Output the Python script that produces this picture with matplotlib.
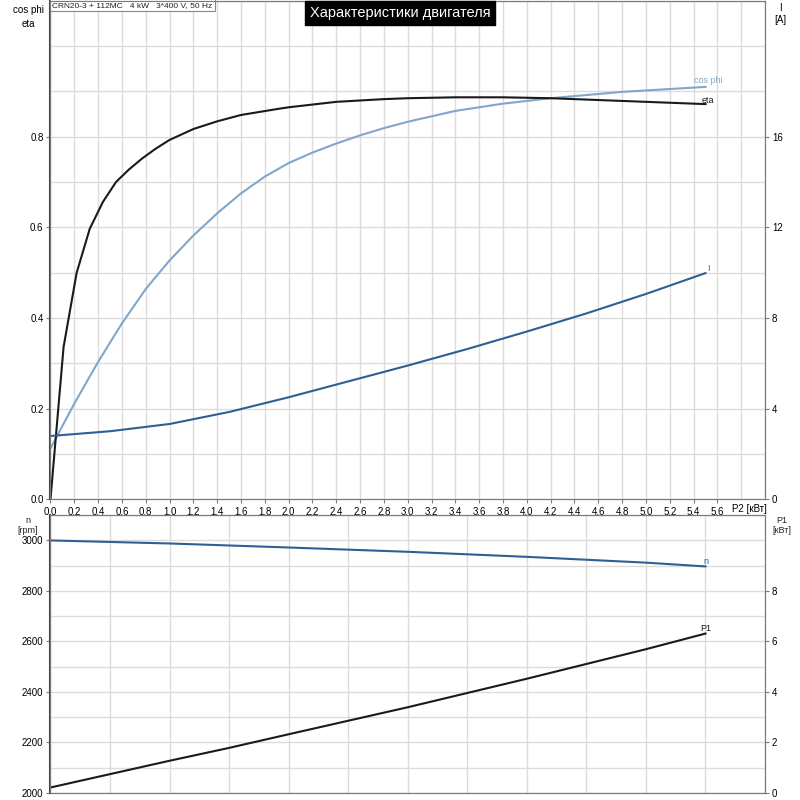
import numpy as np
import matplotlib.pyplot as plt

plt.rcParams['font.family'] = ['Liberation Sans', 'DejaVu Sans']

# данные (P2 в кВт)
p2_eta = [0, 0.11, 0.22, 0.33, 0.44, 0.55, 0.66, 0.77, 0.88, 1.0, 1.2, 1.4, 1.6, 1.9, 2.0, 2.4, 2.8, 3.0, 3.4, 3.8, 4.2, 4.5, 4.8, 5.2, 5.5]
eta = [0, 0.336, 0.50, 0.597, 0.656, 0.70, 0.728, 0.752, 0.773, 0.793, 0.817, 0.834, 0.848, 0.861, 0.865, 0.877, 0.883, 0.885, 0.887, 0.887, 0.885, 0.882, 0.879, 0.875, 0.872]

p2_cos = [0, 0.2, 0.4, 0.6, 0.8, 1.0, 1.2, 1.4, 1.6, 1.8, 2.0, 2.2, 2.4, 2.6, 2.8, 3.0, 3.4, 3.8, 4.2, 4.8, 5.5]
cos_phi = [0.112, 0.211, 0.303, 0.388, 0.464, 0.527, 0.582, 0.631, 0.675, 0.712, 0.742, 0.765, 0.785, 0.803, 0.819, 0.833, 0.857, 0.873, 0.885, 0.899, 0.91]

p2_i = [0, 0.5, 1.0, 1.5, 2.0, 2.5, 3.0, 3.5, 4.0, 4.5, 5.0, 5.5]
current = [2.79, 3.0, 3.32, 3.85, 4.5, 5.2, 5.9, 6.63, 7.4, 8.2, 9.06, 9.98]

p2_n = [0, 0.5, 1.0, 1.5, 2.0, 3.0, 4.0, 5.0, 5.5]
speed = [3000, 2994, 2988, 2980, 2972, 2955, 2935, 2912, 2897]

p2_p1 = [0, 1.0, 1.5, 2.0, 3.0, 4.0, 5.0, 5.5]
p1 = [0.21, 1.27, 1.78, 2.32, 3.39, 4.52, 5.69, 6.31]

x_ticks = [round(0.2 * k, 1) for k in range(29)]
x_labels = [f"{v:.1f}".replace('.', ',') for v in x_ticks]

c_eta = '#1a1a1a'
c_cos = '#82a6ca'
c_i = '#2f5f95'
c_grid = '#dcdcdc'
c_spine = '#7a7a7a'
fs = 7

fig = plt.figure(figsize=(8, 8), dpi=100)
ax = fig.add_axes([0.0631, 0.376, 0.8932, 0.623])
ax2 = fig.add_axes([0.0631, 0.009, 0.8932, 0.347])

# ---- верхний график
ax.set_xlim(0, 6)
ax.set_ylim(0, 1.1)
ax.set_xticks(x_ticks)
ax.set_xticklabels(x_labels, fontsize=fs)
ax.set_xticks(np.arange(0, 6.01, 0.2), minor=True)
ax.set_yticks([0, 0.2, 0.4, 0.6, 0.8])
ax.set_yticklabels(['0.0', '0.2', '0.4', '0.6', '0.8'], fontsize=fs)
ax.set_yticks(np.arange(0, 1.101, 0.1), minor=True)
ax.grid(True, which='both', color=c_grid, lw=1)
ax.tick_params(which='minor', length=0)
ax.tick_params(which='major', length=3, width=0.8, color=c_spine, pad=2)
ax.set_axisbelow(True)
ax.text(5.72, -0.009, 'P2 [кВт]', transform=ax.get_xaxis_transform(),
        fontsize=fs, ha='left', va='top')

ax.plot(p2_cos, cos_phi, color=c_cos, lw=1.5)
ax.plot(p2_eta, eta, color=c_eta, lw=1.5)

axr = ax.twinx()
axr.set_ylim(0, 22)
axr.set_yticks([0, 4, 8, 12, 16])
axr.set_yticklabels(['0', '4', '8', '12', '16'], fontsize=fs)
axr.tick_params(length=3, width=0.8, color=c_spine, pad=2)
axr.plot(p2_i, current, color=c_i, lw=1.5)

ax.text(5.52, 0.923, 'cos phi', color=c_cos, fontsize=6.5, ha='center', va='center')
ax.text(5.52, 0.879, 'eta', color=c_eta, fontsize=6.5, ha='center', va='center')
ax.text(5.52, 0.51, 'I', color=c_i, fontsize=6.5, ha='center', va='center')

for a in (ax, axr):
    for s in a.spines.values():
        s.set_color(c_spine)
ax.spines['left'].set_color('#444444')
ax.spines['left'].set_linewidth(1.5)

ax.text(0.0025, 0.998, 'CRN20-3 + 112MC   4 kW   3*400 V, 50 Hz', transform=ax.transAxes,
        fontsize=6, ha='left', va='top', color='#222222',
        bbox=dict(facecolor='white', edgecolor='#8a8a8a', boxstyle='square,pad=0.3', lw=0.8))

fig.text(0.035, 0.994, 'cos phi\neta', fontsize=fs, ha='center', va='top', linespacing=1.5)
fig.text(0.975, 0.996, 'I\n[A]', fontsize=fs, ha='center', va='top', linespacing=1.2)
fig.text(0.5, 0.984, 'Характеристики двигателя', fontsize=10.5, color='white',
         ha='center', va='center',
         bbox=dict(facecolor='black', edgecolor='black', boxstyle='square,pad=0.35'))

# ---- нижний график
ax2.set_xlim(0, 6)
ax2.set_ylim(2000, 3100)
ax2.set_xticks([])
ax2.set_xticks(np.arange(0, 6.01, 0.5), minor=True)
ax2.set_yticks([2000, 2200, 2400, 2600, 2800, 3000])
ax2.set_yticklabels(['2000', '2200', '2400', '2600', '2800', '3000'], fontsize=fs)
ax2.set_yticks(np.arange(2000, 3101, 100), minor=True)
ax2.grid(True, which='both', color=c_grid, lw=1)
ax2.tick_params(which='minor', length=0)
ax2.tick_params(which='major', length=3, width=0.8, color=c_spine, pad=2)
ax2.set_axisbelow(True)
ax2.plot(p2_n, speed, color=c_i, lw=1.5)

ax2r = ax2.twinx()
ax2r.set_ylim(0, 11)
ax2r.set_yticks([0, 2, 4, 6, 8])
ax2r.set_yticklabels(['0', '2', '4', '6', '8'], fontsize=fs)
ax2r.tick_params(length=3, width=0.8, color=c_spine, pad=2)
ax2r.plot(p2_p1, p1, color=c_eta, lw=1.5)

ax2.text(5.5, 2917, 'n', color=c_i, fontsize=6.5, ha='center', va='center')
ax2r.text(5.5, 6.53, 'P1', color=c_eta, fontsize=6.5, ha='center', va='center')

for a in (ax2, ax2r):
    for s in a.spines.values():
        s.set_color(c_spine)
ax2.spines['left'].set_color('#444444')
ax2.spines['left'].set_linewidth(1.5)

fig.text(0.035, 0.355, 'n\n[rpm]', fontsize=6.5, ha='center', va='top', linespacing=1.15, color='#222222')
fig.text(0.977, 0.355, 'P1\n[кВт]', fontsize=6.5, ha='center', va='top', linespacing=1.15, color='#222222')

fig.savefig('out.png', dpi=100)
